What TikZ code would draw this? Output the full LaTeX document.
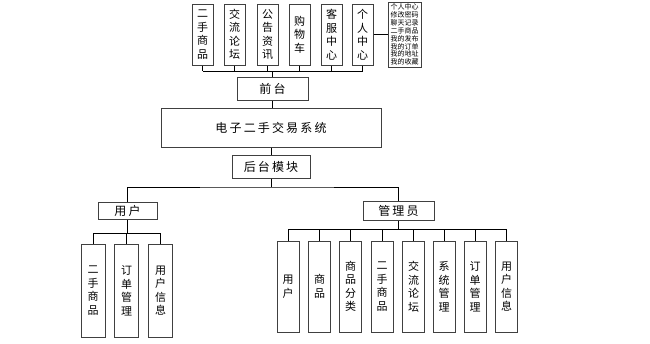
\documentclass[tikz,border=0pt]{standalone}
\usepackage{fontspec}
\newfontfamily\cjk[LetterSpace=18]{Noto Sans CJK SC}
\newfontfamily\cjkv{Noto Sans CJK SC}
\begin{document}
\begin{tikzpicture}[x=1pt,y=-1pt,
  bx/.style={draw=black!75,line width=1pt,inner sep=0pt,fill=white},
  vbox/.style={bx,minimum width=21pt,align=center,font=\cjkv\fontsize{11}{13.5}\selectfont},
  hbox/.style={bx,font=\cjk\fontsize{12}{14}\selectfont},
  ln/.style={draw=black,line width=0.8pt}]
\useasboundingbox (0,0) rectangle (650,343);
% top boxes
\foreach \n/\x/\t in {t1/202.5/二\\手\\商\\品, t2/234.5/交\\流\\论\\坛, t3/267.5/公\\告\\资\\讯, t4/299.5/购\\物\\车, t5/331.5/客\\服\\中\\心, t6/362.5/个\\人\\中\\心}
  \node[vbox,minimum height=61pt] (\n) at (\x,34.5) {\t};
\node[bx,minimum width=33pt,minimum height=65pt,align=center,font=\cjkv\fontsize{7}{7.9}\selectfont] (pc) at (404.5,34.5) {个人中心\\修改密码\\聊天记录\\二手商品\\我的发布\\我的订单\\我的地址\\我的收藏};
\node[hbox,minimum width=71pt,minimum height=23pt] (qt) at (272.5,88.5) {前台};
\node[hbox,minimum width=220pt,minimum height=39pt] (sys) at (271,127.5) {电子二手交易系统};
\node[hbox,minimum width=78pt,minimum height=23pt] (ht) at (271,166.5) {后台模块};
\node[hbox,minimum width=59pt,minimum height=17pt] (yh) at (127.5,210.5) {用户};
\node[hbox,minimum width=71pt,minimum height=19pt] (gly) at (398.5,210.5) {管理员};
% user children
\foreach \n/\x/\t in {u1/93/二\\手\\商\\品, u2/126.5/订\\单\\管\\理, u3/160.5/用\\户\\信\\息}
  \node[vbox,minimum width=24pt,minimum height=93pt] (\n) at (\x,290.5) {\t};
% admin children
\foreach \n/\x/\t in {a1/288/用\\户, a2/319.5/商\\品, a3/350.5/商\\品\\分\\类, a4/382/二\\手\\商\\品, a5/413.5/交\\流\\论\\坛, a6/444/系\\统\\管\\理, a7/475/订\\单\\管\\理, a8/506.5/用\\户\\信\\息}
  \node[vbox,minimum width=22pt,minimum height=91pt] (\n) at (\x,286.5) {\t};
% connectors top
\coordinate (tl) at (202.5,71);
\coordinate (tr) at (362.5,71);
\draw[ln] (tl) -- (tr);
\foreach \n in {t1,t2,t3,t4,t5,t6} \draw[ln] (\n.south) -- (\n.south |- tl);
\draw[ln] (qt.north) -- (qt.north |- tl);
\draw[ln] (t6.east) -- (pc.west);
\draw[ln] (qt.south) -- (qt.south |- sys.north);
\draw[ln] (sys.south) -- (ht.north);
\coordinate (bh) at (271,187);
\draw[ln] (ht.south) -- (bh);
\draw[ln] (yh.north) |- (bh) -| (gly.north);
% user children connectors
\coordinate (uh) at (0,233);
\draw[ln] (yh.south) -- (yh.south |- uh);
\draw[ln] (u1.north) |- (u1.north |- uh) -| (u3.north);
\draw[ln] (u2.north) -- (u2.north |- uh);
% admin children connectors
\coordinate (ah) at (0,229);
\draw[ln,line width=1.4pt] (gly.south) -- (gly.south |- ah);
\draw[ln] (a1.north) |- (a1.north |- ah) -| (a8.north);
\foreach \n in {a2,a3,a4,a5,a6,a7} \draw[ln] (\n.north) -- (\n.north |- ah);
\end{tikzpicture}
\end{document}
